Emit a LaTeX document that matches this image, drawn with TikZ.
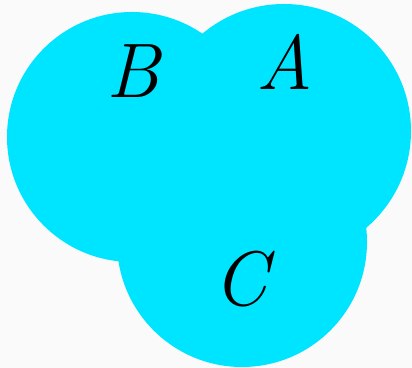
\documentclass[tikz,border=0pt]{standalone}
\usepackage{fontspec}
\usepackage{xcolor}
\usepackage{tikz}
\usetikzlibrary{positioning,calc}
\definecolor{setcyan}{HTML}{00E5FF}
\definecolor{pagegray}{HTML}{FAFAFA}

\begin{document}
\begin{tikzpicture}[x=0.03cm, y=-0.03cm]
\fill[pagegray] (0,0) rectangle (412,368);
\useasboundingbox (0,0) rectangle (412,368);
\tikzset{setdisc/.style={circle, fill=setcyan, inner sep=0pt}, setname/.style={inner sep=0pt, font=\fontsize{66}{66}\selectfont\itshape}}
\node[setdisc, minimum size=7.5cm] (discB) at (132,137) {};
\node[setdisc, minimum size=7.62cm] (discA) at (284,131) {};
\node[setdisc, minimum size=7.5cm] (discC) at (242,242) {};
\node[setname] (nameB) at (133,71) {B};
\node[setname] (nameA) at (285,62) {A};
\node[setname] (nameC) at (241,279) {C};
\end{tikzpicture}
\end{document}
